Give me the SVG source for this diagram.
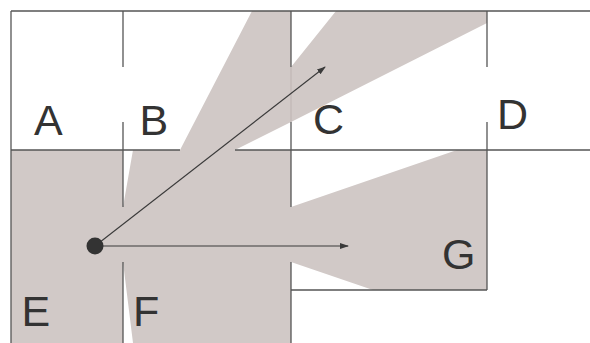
<svg xmlns="http://www.w3.org/2000/svg" width="590" height="343" viewBox="0 0 590 343">
  <style>
    .wall { stroke: #555; stroke-width: 1.3; fill: none; }
    .lit { fill: #d1c9c7; stroke: none; }
    .seam { stroke: #bdb3b1; stroke-width: 1; }
    .label { font-family: "Liberation Sans", Arial, sans-serif; font-size: 43px; fill: #333; }
    .ray { stroke: #3a3a3a; stroke-width: 1.1; fill: none; marker-end: url(#tip); }
  </style>
  <defs>
    <marker id="tip" markerUnits="userSpaceOnUse" markerWidth="9" markerHeight="6" refX="8" refY="3" orient="auto">
      <path d="M0,0 L9,3 L0,6 z" fill="#3a3a3a"/>
    </marker>
  </defs>

  <rect width="590" height="343" fill="#fff"/>

  <!-- region visible from the viewer through the open doorways -->
  <g id="visible-region">
    <path class="lit" d="M11,150 L123,150 L123,207 L133,150 L180,150 L252,11 L291,11 L291,67 L336,11 L487,11 L487,23 L291,122 L235,150 L291,150 L291,207 L457,150 L487,150 L487,290 L373,290 L291,262 L291,343 L133,343 L123,262 L123,343 L11,343 Z"/>
    <line class="seam" x1="291" y1="67" x2="291" y2="122"/>
  </g>

  <!-- walls, with doorway gaps -->
  <g id="walls">
    <line class="wall" x1="11" y1="11" x2="590" y2="11"/>
    <line class="wall" x1="11" y1="11" x2="11" y2="343"/>
    <line class="wall" x1="11" y1="150" x2="180" y2="150"/>
    <line class="wall" x1="235" y1="150" x2="590" y2="150"/>
    <line class="wall" x1="123" y1="11" x2="123" y2="67"/>
    <line class="wall" x1="123" y1="122" x2="123" y2="207"/>
    <line class="wall" x1="123" y1="262" x2="123" y2="343"/>
    <line class="wall" x1="291" y1="11" x2="291" y2="67"/>
    <line class="wall" x1="291" y1="122" x2="291" y2="207"/>
    <line class="wall" x1="291" y1="262" x2="291" y2="343"/>
    <line class="wall" x1="487" y1="11" x2="487" y2="67"/>
    <line class="wall" x1="487" y1="122" x2="487" y2="290"/>
    <line class="wall" x1="291" y1="290" x2="487" y2="290"/>
  </g>

  <!-- rooms -->
  <g id="room-A"><text class="label" x="34" y="135">A</text></g>
  <g id="room-B"><text class="label" x="139.5" y="135">B</text></g>
  <g id="room-C"><text class="label" x="313" y="134">C</text></g>
  <g id="room-D"><text class="label" x="497" y="129">D</text></g>
  <g id="room-E"><text class="label" x="21.5" y="326">E</text></g>
  <g id="room-F"><text class="label" x="133" y="326">F</text></g>
  <g id="room-G"><text class="label" x="442" y="269">G</text></g>

  <!-- view directions -->
  <g id="connectors">
    <line class="ray" x1="95" y1="246" x2="325" y2="67"/>
    <line class="ray" x1="95" y1="246" x2="348" y2="246"/>
  </g>

  <g id="viewer">
    <circle cx="95" cy="246" r="8.5" fill="#333"/>
  </g>
</svg>
